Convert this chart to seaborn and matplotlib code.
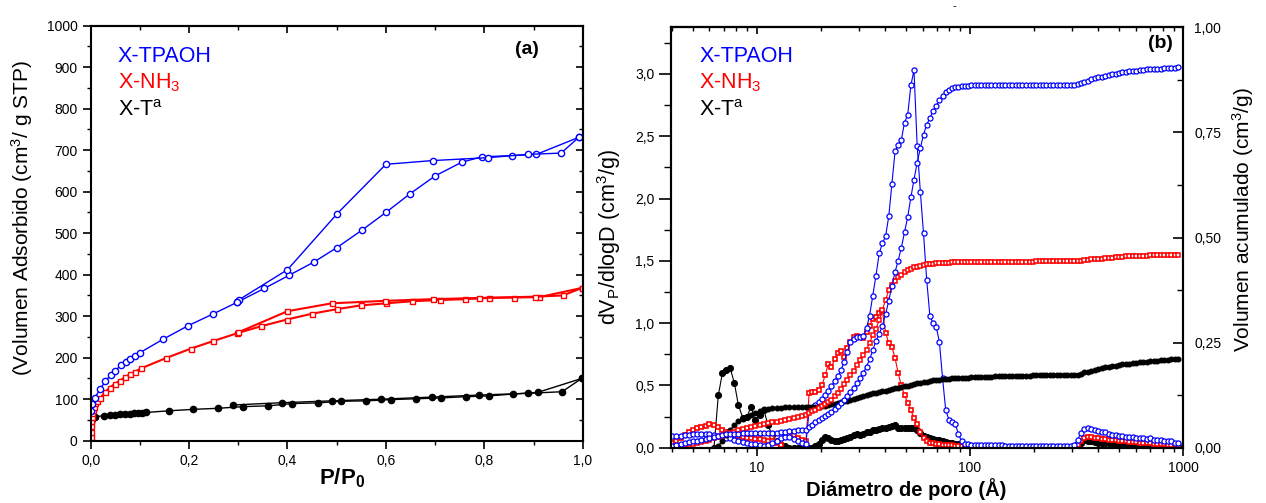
import seaborn as sns
import matplotlib.pyplot as plt
from matplotlib.ticker import MultipleLocator, FixedLocator, FixedFormatter, LogLocator, NullFormatter

nan = float('nan')

# ---------------- panel (a): isotherms ----------------
tpaoh_ads_p = [0.001, 0.003, 0.008, 0.019, 0.030, 0.041, 0.049, 0.062, 0.071, 0.080, 0.090, 0.100,
               0.148, 0.198, 0.248, 0.297, 0.353, 0.404, 0.453, 0.500, 0.551, 0.600, 0.649, 0.700,
               0.754, 0.795, 0.857, 0.906, 0.992]
tpaoh_ads_v = [72, 88, 102, 124, 143, 159, 168, 182, 189, 196, 204, 212,
               245, 277, 305, 333, 367, 399, 430, 465, 507, 550, 595, 638,
               671, 684, 687, 690, 731]
tpaoh_des_p = [0.992, 0.956, 0.889, 0.807, 0.695, 0.600, 0.501, 0.400, 0.302, 0.297]
tpaoh_des_v = [731, 693, 690, 682, 675, 666, 547, 412, 340, 333]

nh3_ads_p = [0.000, 0.000, 0.0005, 0.001, 0.0015, 0.002, 0.003, 0.004, 0.006, 0.008, 0.012,
             0.020, 0.029, 0.039, 0.049, 0.060, 0.070, 0.080, 0.090, 0.102, 0.153, 0.204,
             0.249, 0.298, 0.347, 0.399, 0.450, 0.501, 0.549, 0.600, 0.654, 0.709, 0.760,
             0.810, 0.861, 0.912, 0.998]
nh3_ads_v = [0, 10, 20, 35, 48, 58, 66, 74, 82, 90, 96,
             103, 117, 128, 137, 145, 153, 160, 166, 174, 199, 222,
             240, 259, 276, 292, 306, 317, 326, 331, 336, 339, 341,
             344, 345, 346, 368]
nh3_des_p = [0.998, 0.960, 0.903, 0.790, 0.695, 0.598, 0.490, 0.400, 0.300]
nh3_des_v = [368, 350, 347, 344, 341, 337, 331, 312, 261]

ta_ads_p = [0.0005, 0.003, 0.009, 0.027, 0.040, 0.050, 0.060, 0.069, 0.079, 0.088, 0.096, 0.105,
            0.113, 0.159, 0.209, 0.258, 0.309, 0.361, 0.410, 0.461, 0.509, 0.560, 0.611, 0.661,
            0.711, 0.762, 0.810, 0.859, 0.909, 0.998]
ta_ads_v = [45, 52, 58, 60, 62, 62.5, 64, 64.5, 65, 66, 66, 67,
            68, 72, 75.5, 78, 82, 84, 89.5, 91, 95, 96, 99, 101,
            103, 106, 108, 112.5, 116.5, 150]
ta_des_p = [0.998, 0.958, 0.888, 0.790, 0.693, 0.590, 0.490, 0.388, 0.290]
ta_des_v = [150, 118, 114, 110, 105, 100, 96, 91.5, 86]

a_xticks = [0.0, 0.2, 0.4, 0.6, 0.8, 1.0]
a_xlabels = ["0,0", "0,2", "0,4", "0,6", "0,8", "1,0"]
a_yticks = [0, 100, 200, 300, 400, 500, 600, 700, 800, 900, 1000]

# ---------------- panel (b): pore size distribution ----------------
pore_d = [4.0, 4.2, 4.4, 4.6, 4.8, 5.0, 5.25, 5.5, 5.75, 6.0,
          6.3, 6.6, 6.9, 7.2, 7.5, 7.85, 8.2, 8.6, 9.0, 9.4,
          9.8, 10.3, 10.8, 11.3, 11.8, 12.4, 13.0, 13.6, 14.2, 14.9,
          15.6, 16.3, 17.0, 17.6, 18.2, 18.8, 19.5, 20.2, 20.9, 21.6,
          22.4, 23.2, 24.0, 24.8, 25.7, 26.6, 27.5, 28.5, 29.5, 30.5,
          31.6, 32.7, 33.8, 35.0, 36.2, 37.5, 38.8, 40.2, 41.6, 43.0,
          44.5, 46.0, 47.6, 49.3, 51.0, 52.8, 54.6, 56.5, 58.5, 60.5,
          62.6, 64.8, 67.0, 69.4, 71.8, 74.3, 76.9, 79.6, 82.4, 85.2,
          88.2, 91.3, 94.5, 97.8, 101, 105, 109, 113, 117, 121,
          126, 131, 136, 141, 146, 152, 158, 164, 170, 176,
          183, 190, 197, 204, 212, 220, 228, 237, 246, 255,
          265, 275, 285, 296, 307, 319, 331, 344, 357, 370,
          384, 399, 414, 430, 446, 463, 481, 499, 518, 538,
          558, 580, 602, 625, 649, 674, 700, 727, 755, 784,
          814, 845, 877, 910, 945]

tpaoh_psd = [0.094, 0.095, 0.098, 0.102, 0.106, 0.108, 0.110, 0.111, 0.110, 0.108,
             0.104, 0.098, 0.090, 0.082, 0.074, 0.065, 0.056, 0.048, 0.040, 0.033,
             0.027, 0.021, 0.016, 0.018, 0.035, 0.055, 0.075, 0.088, 0.085, 0.070,
             0.052, 0.038, 0.032, 0.300, 0.320, 0.340, 0.365, 0.395, 0.425, 0.455,
             0.495, 0.535, 0.575, 0.620, 0.690, 0.770, 0.850, 0.875, 0.885, 0.890,
             0.900, 0.960, 1.060, 1.220, 1.380, 1.560, 1.640, 1.700, 1.860, 2.120,
             2.380, 2.430, 2.470, 2.610, 2.670, 2.910, 3.030, 2.420, 2.050, 1.720,
             1.350, 1.060, 1.000, 0.970, 0.850, 0.560, 0.300, 0.225, 0.210, 0.190,
             0.110, 0.050, 0.032, 0.026, 0.024, 0.023, 0.022, 0.021, 0.020, 0.020,
             0.019, 0.019, 0.018, 0.018, 0.017, 0.017, 0.016, 0.016, 0.015, 0.015,
             0.015, 0.014, 0.014, 0.014, 0.013, 0.013, 0.013, 0.013, 0.012, 0.012,
             0.012, 0.012, 0.012, 0.012, 0.020, 0.060, 0.120, 0.150, 0.160, 0.150,
             0.140, 0.135, 0.130, 0.125, 0.110, 0.100, 0.100, 0.095, 0.095, 0.090,
             0.090, 0.085, 0.080, 0.080, 0.075, 0.070, 0.075, 0.065, 0.060, 0.060,
             0.055, 0.050, 0.055, 0.040, 0.035]
tpaoh_cum = [0.005, 0.007, 0.009, 0.011, 0.013, 0.015, 0.017, 0.019, 0.021, 0.023,
             0.026, 0.028, 0.030, 0.032, 0.033, 0.033, 0.033, 0.034, 0.034, 0.034,
             0.034, 0.035, 0.035, 0.035, 0.035, 0.036, 0.037, 0.038, 0.039, 0.040,
             0.041, 0.042, 0.043, 0.050, 0.055, 0.060, 0.065, 0.070, 0.075, 0.080,
             0.086, 0.092, 0.099, 0.106, 0.114, 0.123, 0.132, 0.142, 0.153, 0.165,
             0.178, 0.193, 0.210, 0.232, 0.255, 0.270, 0.290, 0.318, 0.350, 0.385,
             0.418, 0.445, 0.475, 0.512, 0.549, 0.596, 0.638, 0.678, 0.713, 0.745,
             0.768, 0.784, 0.800, 0.814, 0.826, 0.836, 0.845, 0.850, 0.855, 0.857,
             0.859, 0.860, 0.861, 0.861, 0.862, 0.862, 0.862, 0.862, 0.862, 0.862,
             0.862, 0.862, 0.862, 0.862, 0.862, 0.862, 0.862, 0.862, 0.862, 0.862,
             0.862, 0.862, 0.862, 0.862, 0.862, 0.862, 0.862, 0.862, 0.862, 0.862,
             0.862, 0.862, 0.862, 0.862, 0.862, 0.864, 0.867, 0.870, 0.873, 0.876,
             0.879, 0.881, 0.883, 0.885, 0.887, 0.889, 0.890, 0.892, 0.893, 0.894,
             0.895, 0.896, 0.897, 0.898, 0.899, 0.900, 0.900, 0.901, 0.902, 0.902,
             0.903, 0.903, 0.904, 0.904, 0.905]

nh3_psd = [0.040, 0.050, 0.075, 0.105, 0.125, 0.140, 0.155, 0.168, 0.178, 0.188,
           0.185, 0.165, 0.145, 0.125, 0.112, 0.102, 0.094, 0.088, 0.082, 0.077,
           0.072, 0.066, 0.060, 0.052, 0.090, 0.035, 0.022, 0.100, 0.110, 0.100,
           0.080, 0.062, 0.050, 0.440, 0.450, 0.450, 0.460, 0.500, 0.580, 0.670,
           0.650, 0.710, 0.760, 0.780, 0.730, 0.800, 0.850, 0.890, 0.900, 0.890,
           0.880, 0.930, 0.980, 1.030, 1.050, 1.080, 1.100, 0.920, 0.840, 0.810,
           0.720, 0.600, 0.500, 0.420, 0.360, 0.300, 0.240, 0.190, 0.130, 0.080,
           0.050, 0.040, 0.035, 0.030, 0.028, 0.025, 0.022, 0.020, 0.018, 0.016,
           0.014, 0.012, 0.010, 0.009, 0.008, 0.008, 0.007, 0.007, 0.007, 0.006,
           0.006, 0.006, 0.006, 0.005, 0.005, 0.005, 0.005, 0.005, 0.005, 0.005,
           0.005, 0.005, 0.005, 0.005, 0.005, 0.005, 0.005, 0.005, 0.005, 0.005,
           0.004, 0.004, 0.004, 0.004, 0.004, 0.020, 0.050, 0.080, 0.090, 0.085,
           0.080, 0.075, 0.072, 0.070, 0.065, 0.060, 0.058, 0.055, 0.052, 0.050,
           0.048, 0.045, 0.043, 0.040, 0.038, 0.036, 0.034, 0.032, 0.030, 0.028,
           0.026, 0.024, 0.022, 0.020, 0.018]
nh3_cum = [0.000, 0.002, 0.004, 0.006, 0.008, 0.010, 0.012, 0.014, 0.016, 0.019,
           0.022, 0.025, 0.028, 0.032, 0.035, 0.038, 0.041, 0.044, 0.047, 0.049,
           0.051, 0.054, 0.056, 0.058, 0.060, 0.062, 0.064, 0.066, 0.068, 0.070,
           0.073, 0.076, 0.079, 0.083, 0.087, 0.090, 0.094, 0.100, 0.104, 0.108,
           0.114, 0.122, 0.130, 0.139, 0.152, 0.162, 0.172, 0.183, 0.196, 0.208,
           0.220, 0.233, 0.250, 0.268, 0.283, 0.303, 0.328, 0.352, 0.375, 0.388,
           0.397, 0.405, 0.412, 0.418, 0.422, 0.426, 0.429, 0.431, 0.433, 0.435,
           0.436, 0.437, 0.438, 0.439, 0.439, 0.440, 0.440, 0.440, 0.441, 0.441,
           0.441, 0.441, 0.441, 0.441, 0.441, 0.441, 0.442, 0.442, 0.442, 0.442,
           0.442, 0.442, 0.442, 0.442, 0.442, 0.442, 0.442, 0.442, 0.442, 0.442,
           0.442, 0.442, 0.442, 0.443, 0.443, 0.443, 0.443, 0.443, 0.443, 0.443,
           0.443, 0.443, 0.443, 0.443, 0.443, 0.444, 0.445, 0.446, 0.447, 0.448,
           0.449, 0.450, 0.450, 0.451, 0.452, 0.452, 0.453, 0.454, 0.454, 0.455,
           0.455, 0.456, 0.456, 0.457, 0.457, 0.457, 0.458, 0.458, 0.458, 0.459,
           0.459, 0.459, 0.459, 0.459, 0.459]

ta_psd = [nan, nan, nan, nan, nan, nan, nan, nan, nan, nan,
          0.000, 0.420, 0.600, 0.620, 0.640, 0.520, 0.340, 0.240, 0.250, 0.330,
          0.220, 0.260, 0.300, 0.180, 0.100, 0.050, 0.020, 0.010, 0.000, 0.000,
          0.000, 0.000, 0.000, 0.000, 0.000, 0.010, 0.030, 0.060, 0.085, 0.080,
          0.060, 0.050, 0.055, 0.060, 0.070, 0.080, 0.090, 0.100, 0.110, 0.105,
          0.110, 0.125, 0.130, 0.140, 0.145, 0.150, 0.155, 0.160, 0.165, 0.175,
          0.180, 0.160, 0.155, 0.155, 0.155, 0.155, 0.160, 0.145, 0.120, 0.095,
          0.085, 0.080, 0.070, 0.065, 0.060, 0.055, 0.045, 0.040, 0.035, 0.030,
          0.028, 0.025, 0.020, 0.015, 0.012, 0.010, 0.008, 0.006, 0.005, 0.004,
          0.003, 0.002, 0.001, 0.000, 0.000, 0.000, 0.000, 0.000, 0.000, 0.000,
          0.000, 0.000, 0.000, 0.000, 0.000, 0.000, 0.000, 0.000, 0.000, 0.000,
          0.000, 0.000, 0.000, 0.000, 0.000, 0.010, 0.040, 0.060, 0.055, 0.050,
          0.045, 0.040, 0.040, 0.038, 0.036, 0.034, 0.032, 0.030, 0.028, 0.027,
          0.026, 0.025, 0.024, 0.022, 0.020, 0.019, 0.018, 0.016, 0.015, 0.014,
          0.013, 0.012, 0.011, 0.010, 0.010]
ta_cum = [nan, nan, nan, nan, nan, nan, nan, nan, nan, nan,
          0.000, 0.005, 0.015, 0.030, 0.042, 0.055, 0.063, 0.068, 0.072, 0.077,
          0.082, 0.087, 0.091, 0.093, 0.094, 0.095, 0.095, 0.096, 0.096, 0.096,
          0.096, 0.096, 0.096, 0.096, 0.096, 0.097, 0.097, 0.099, 0.100, 0.101,
          0.103, 0.104, 0.106, 0.108, 0.110, 0.112, 0.114, 0.117, 0.119, 0.121,
          0.123, 0.125, 0.127, 0.129, 0.131, 0.132, 0.134, 0.136, 0.137, 0.139,
          0.141, 0.142, 0.144, 0.146, 0.148, 0.150, 0.152, 0.153, 0.155, 0.156,
          0.157, 0.158, 0.160, 0.161, 0.162, 0.163, 0.163, 0.164, 0.165, 0.166,
          0.166, 0.167, 0.167, 0.167, 0.168, 0.168, 0.168, 0.169, 0.169, 0.169,
          0.169, 0.170, 0.170, 0.170, 0.170, 0.170, 0.171, 0.171, 0.171, 0.171,
          0.171, 0.171, 0.172, 0.172, 0.172, 0.172, 0.172, 0.172, 0.172, 0.173,
          0.173, 0.173, 0.173, 0.173, 0.173, 0.174, 0.176, 0.179, 0.181, 0.183,
          0.185, 0.187, 0.189, 0.191, 0.192, 0.194, 0.195, 0.197, 0.198, 0.199,
          0.200, 0.201, 0.202, 0.203, 0.204, 0.205, 0.206, 0.207, 0.207, 0.208,
          0.209, 0.209, 0.210, 0.210, 0.211]

b_xticks = [10, 100, 1000]
b_xlabels = ["10", "100", "1000"]
b_yticks = [0.0, 0.5, 1.0, 1.5, 2.0, 2.5, 3.0]
b_ylabels = ["0,0", "0,5", "1,0", "1,5", "2,0", "2,5", "3,0"]
b_rticks = [0.0, 0.25, 0.5, 0.75, 1.0]
b_rlabels = ["0,00", "0,25", "0,50", "0,75", "1,00"]

BLUE, RED, BLACK = "#0000ff", "#ff0000", "#000000"

sns.set_theme(style="ticks")
plt.rcParams['font.family'] = ['Liberation Sans', 'DejaVu Sans']
plt.rcParams['mathtext.fontset'] = 'custom'
plt.rcParams['mathtext.rm'] = 'Liberation Sans'
plt.rcParams['mathtext.it'] = 'Liberation Sans'
plt.rcParams['mathtext.bf'] = 'Liberation Sans:bold'
for k in ['axes.edgecolor', 'xtick.color', 'ytick.color', 'text.color', 'axes.labelcolor']:
    plt.rcParams[k] = 'black'

fig = plt.figure(figsize=(12.66, 5.03), dpi=100)
axa = fig.add_axes([0.0716, 0.1239, 0.3887, 0.825])
axb = fig.add_axes([0.5300, 0.1099, 0.4047, 0.8358])


def style_out(ax):
    ax.tick_params(which='major', direction='out', length=5.8, width=1.2, labelsize=10, pad=3.5)
    ax.tick_params(which='minor', direction='out', length=3.2, width=1.0)
    for s in ax.spines.values():
        s.set_linewidth(1.5)
        s.set_visible(True)


# ---- panel (a) ----
def iso(ax, x, y, color, marker, ms, mfc, lw=1.0):
    sns.lineplot(x=x, y=y, ax=ax, sort=False, estimator=None, color=color, lw=lw,
                 marker=marker, markersize=ms, mfc=mfc, mec=color, mew=1.0, legend=False)


iso(axa, ta_ads_p, ta_ads_v, BLACK, 'o', 4.5, BLACK)
iso(axa, ta_des_p, ta_des_v, BLACK, 'o', 4.5, BLACK)
iso(axa, nh3_ads_p, nh3_ads_v, RED, 's', 3.6, 'white', lw=1.5)
iso(axa, nh3_des_p, nh3_des_v, RED, 's', 3.6, 'white', lw=1.5)
iso(axa, tpaoh_ads_p, tpaoh_ads_v, BLUE, 'o', 4.5, 'white')
iso(axa, tpaoh_des_p, tpaoh_des_v, BLUE, 'o', 4.5, 'white')

axa.set_xlim(0, 1.0)
axa.set_ylim(0, 1000)
axa.xaxis.set_major_locator(FixedLocator(a_xticks))
axa.xaxis.set_major_formatter(FixedFormatter(a_xlabels))
axa.xaxis.set_minor_locator(MultipleLocator(0.1))
axa.yaxis.set_major_locator(FixedLocator(a_yticks))
axa.yaxis.set_minor_locator(MultipleLocator(50))
style_out(axa)
axa.set_xlabel(r"P/P$_\mathbf{0}$", fontsize=16, fontweight='bold')
axa.set_ylabel(r"(Volumen Adsorbido (cm$^3$/ g STP)", fontsize=15)
axa.xaxis.set_label_coords(0.51, -0.063)
axa.yaxis.set_label_coords(-0.113, 0.537)

secx = axa.secondary_xaxis('top')
secx.xaxis.set_major_locator(FixedLocator(a_xticks))
secx.xaxis.set_minor_locator(MultipleLocator(0.1))
secx.tick_params(which='major', direction='in', length=5, width=1.2, labeltop=False)
secx.tick_params(which='minor', direction='in', length=3, width=1.0)
secy = axa.secondary_yaxis('right')
secy.yaxis.set_major_locator(FixedLocator(a_yticks))
secy.yaxis.set_minor_locator(MultipleLocator(50))
secy.tick_params(which='major', direction='in', length=5, width=1.2, labelright=False)
secy.tick_params(which='minor', direction='in', length=3, width=1.0)
for s in list(secx.spines.values()) + list(secy.spines.values()):
    s.set_linewidth(1.5)

axa.text(0.055, 0.913, "X-TPAOH", color=BLUE, fontsize=15.5, transform=axa.transAxes, va='baseline')
axa.text(0.055, 0.849, r"X-NH$_3$", color=RED, fontsize=15.5, transform=axa.transAxes, va='baseline')
axa.text(0.055, 0.782, r"X-T$^a$", color=BLACK, fontsize=15.5, transform=axa.transAxes, va='baseline')
axa.text(0.887, 0.943, "(a)", fontsize=14, fontweight='bold', transform=axa.transAxes,
         ha='center', va='center')

# ---- panel (b) ----
axb.set_xscale('log')
axr = axb.twinx()


def pts(ax, y, color, marker, ms, mfc, lw=0.8, mew=0.9):
    sns.lineplot(x=pore_d, y=y, ax=ax, sort=False, estimator=None, color=color, lw=lw,
                 marker=marker, markersize=ms, mfc=mfc, mec=color, mew=mew, legend=False)


pts(axb, ta_psd, BLACK, 'o', 4.2, BLACK)
pts(axb, nh3_psd, RED, 's', 3.5, 'white', mew=1.2)
pts(axb, tpaoh_psd, BLUE, 'o', 3.7, 'white')
pts(axr, ta_cum, BLACK, 'o', 3.4, BLACK)
pts(axr, nh3_cum, RED, 's', 3.3, 'white', mew=1.1)
pts(axr, tpaoh_cum, BLUE, 'o', 3.6, 'white')

axb.set_xlim(3.96, 1000)
axb.set_ylim(0, 3.374)
axr.set_ylim(0, 1.0)
axb.xaxis.set_major_locator(FixedLocator(b_xticks))
axb.xaxis.set_major_formatter(FixedFormatter(b_xlabels))
axb.xaxis.set_minor_locator(LogLocator(base=10, subs=[2, 3, 4, 5, 6, 7, 8, 9]))
axb.xaxis.set_minor_formatter(NullFormatter())
axb.yaxis.set_major_locator(FixedLocator(b_yticks))
axb.yaxis.set_major_formatter(FixedFormatter(b_ylabels))
axb.yaxis.set_minor_locator(MultipleLocator(0.25))
style_out(axb)
axb.tick_params(axis='y', which='major', length=8.5)
axb.tick_params(axis='y', which='minor', length=5)
axr.yaxis.set_major_locator(FixedLocator(b_rticks))
axr.yaxis.set_major_formatter(FixedFormatter(b_rlabels))
axr.yaxis.set_minor_locator(MultipleLocator(0.125))
axr.tick_params(which='major', direction='in', length=7, width=1.2, labelsize=10, pad=8)
axr.tick_params(which='minor', direction='in', length=4, width=1.0)
for s in axr.spines.values():
    s.set_linewidth(1.5)

secb = axb.secondary_xaxis('top')
secb.xaxis.set_major_locator(FixedLocator(b_xticks))
secb.xaxis.set_minor_locator(LogLocator(base=10, subs=[2, 3, 4, 5, 6, 7, 8, 9]))
secb.xaxis.set_minor_formatter(NullFormatter())
secb.tick_params(which='major', direction='in', length=5, width=1.2, labeltop=False)
secb.tick_params(which='minor', direction='in', length=3, width=1.0)
for s in secb.spines.values():
    s.set_linewidth(1.5)

axb.set_xlabel("Diámetro de poro (Å)", fontsize=14.5, fontweight='bold')
axb.set_ylabel(r"dV$_P$/dlogD (cm$^3$/g)", fontsize=15.5)
axr.set_ylabel(r"Volumen acumulado (cm$^3$/g)", fontsize=15)
axb.xaxis.set_label_coords(0.459, -0.072)
axb.yaxis.set_label_coords(-0.094, 0.5)
axr.yaxis.set_label_coords(1.091, 0.542)

axb.text(0.055, 0.918, "X-TPAOH", color=BLUE, fontsize=15.5, transform=axb.transAxes, va='baseline')
axb.text(0.055, 0.855, r"X-NH$_3$", color=RED, fontsize=15.5, transform=axb.transAxes, va='baseline')
axb.text(0.055, 0.789, r"X-T$^a$", color=BLACK, fontsize=15.5, transform=axb.transAxes, va='baseline')
axb.text(0.956, 0.962, "(b)", fontsize=14, fontweight='bold', transform=axb.transAxes,
         ha='center', va='center')
fig.text(954 / 1266, 1 - 6 / 503, "-", fontsize=8, ha='center', va='center')

fig.savefig("out.png", dpi=100)
